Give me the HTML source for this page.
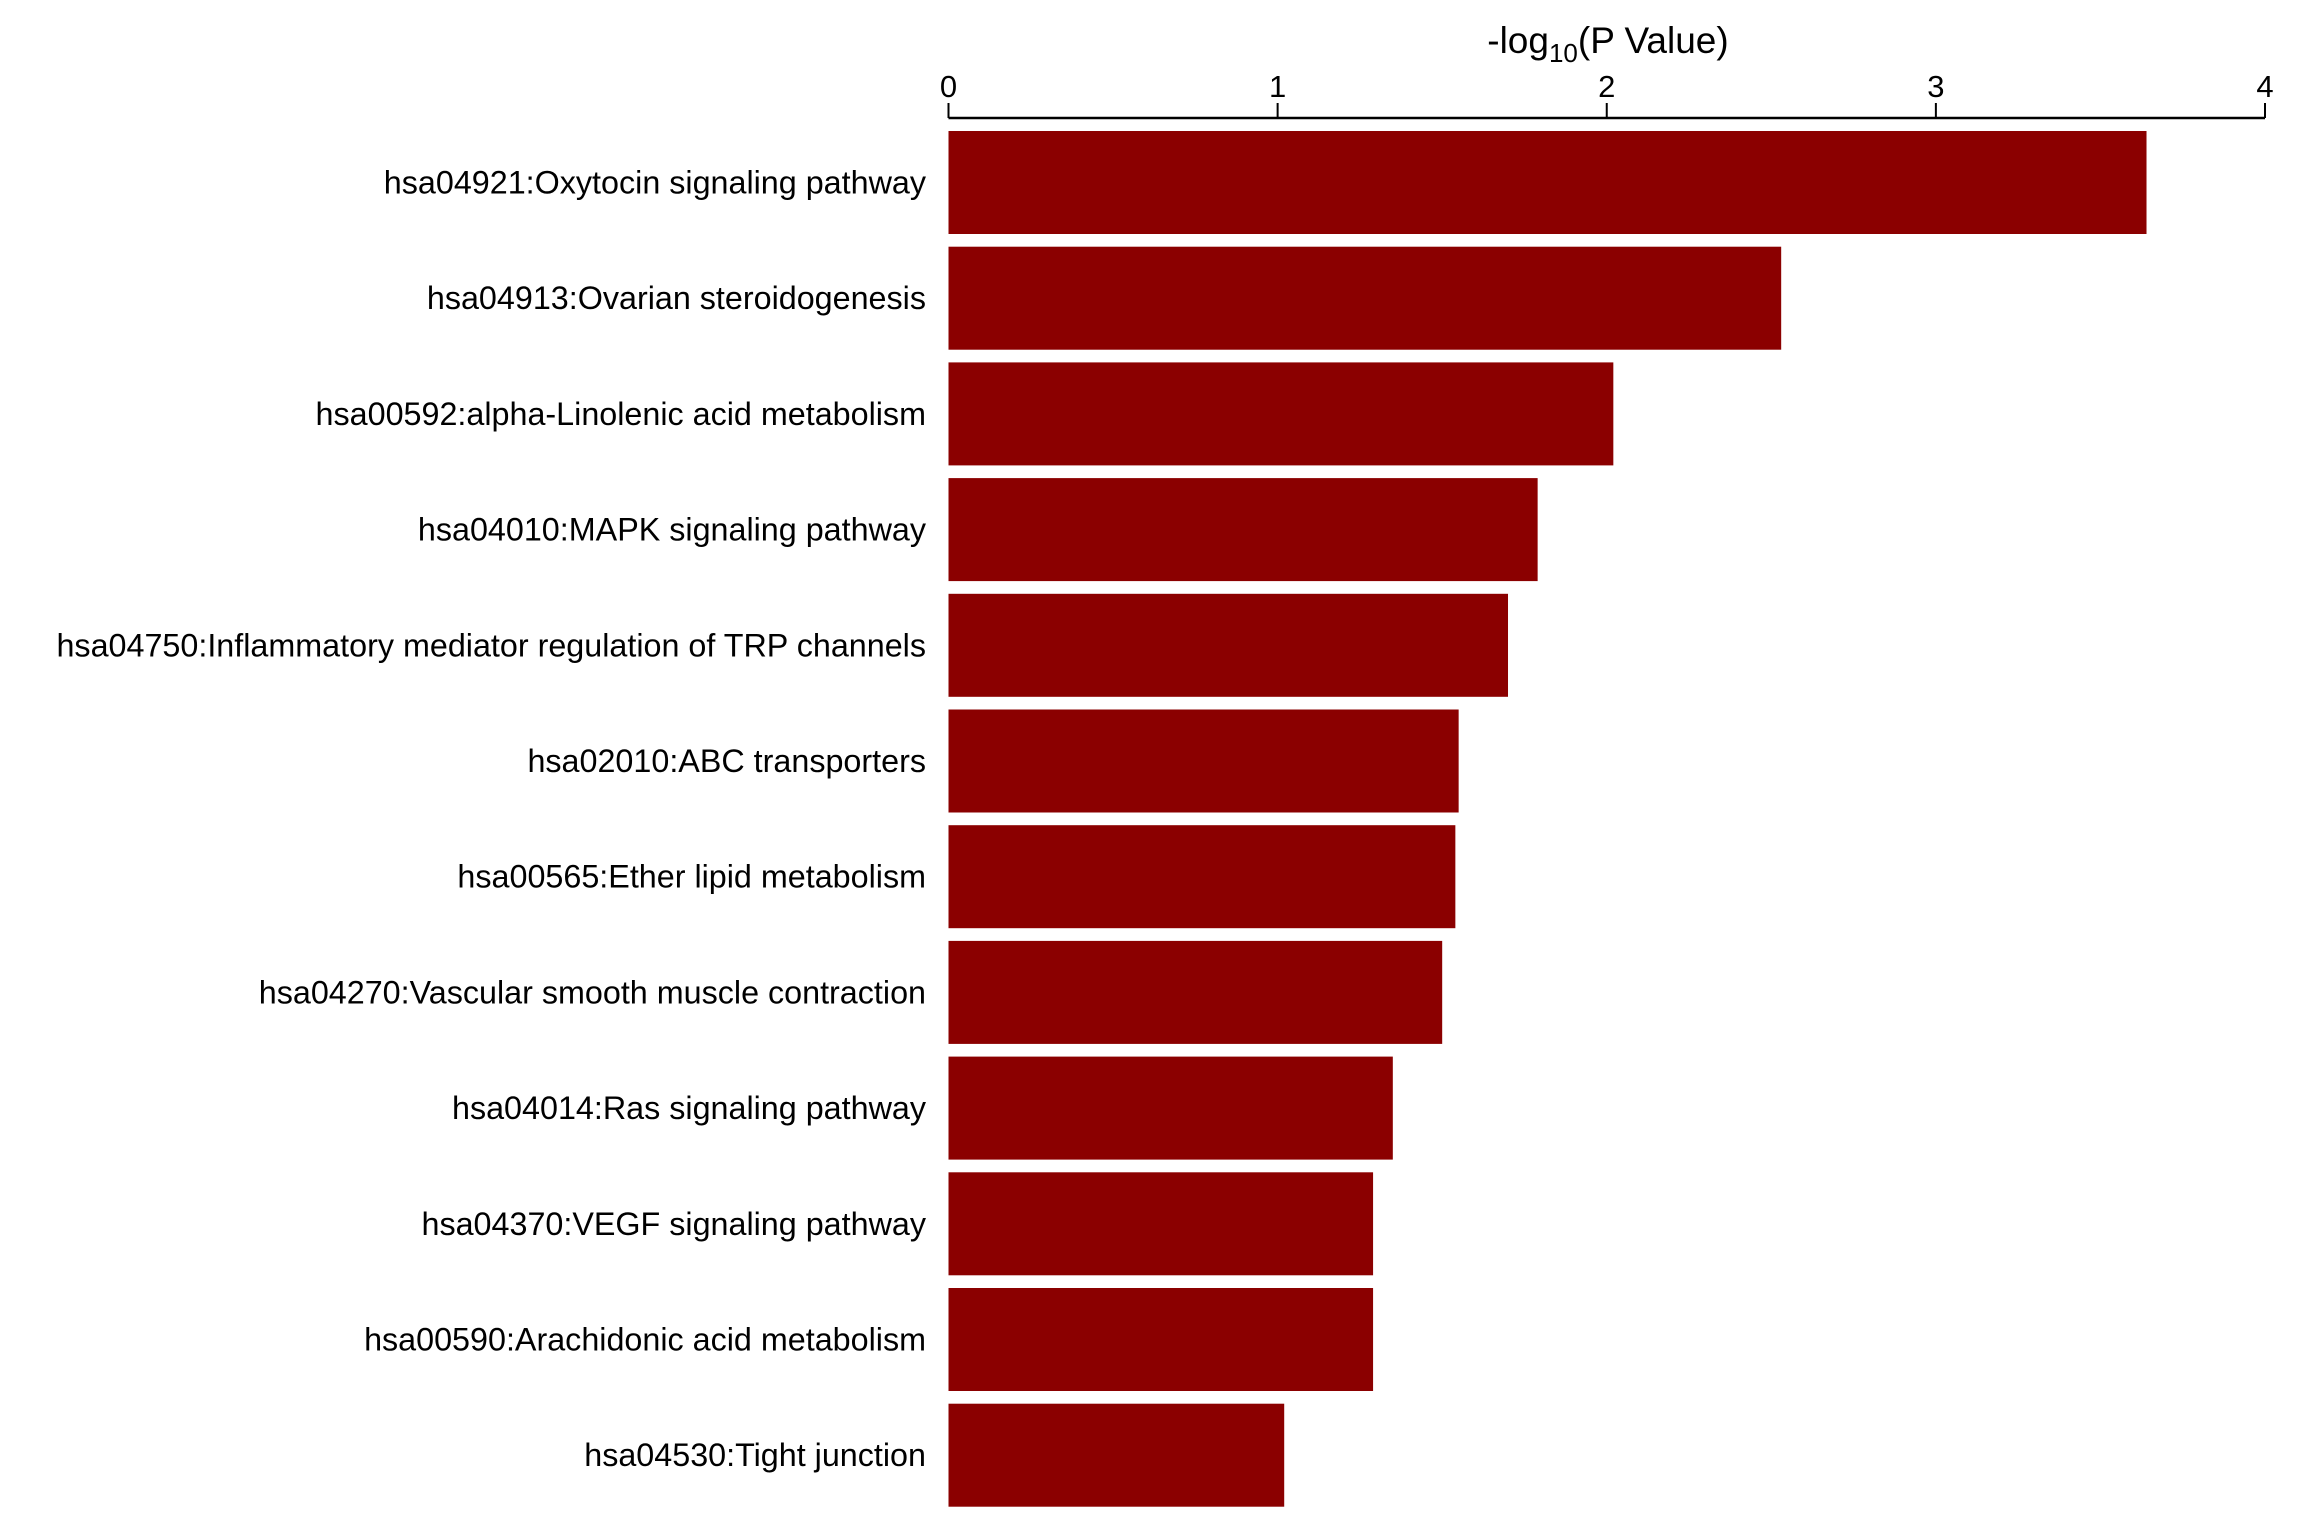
<!DOCTYPE html>
<html><head><meta charset="utf-8"><style>
html,body{margin:0;padding:0;background:#fff;}
svg{display:block;font-family:"Liberation Sans",Arial,sans-serif;}
</style></head><body>
<svg id="chart" width="2304" height="1536" viewBox="0 0 2304 1536" xmlns="http://www.w3.org/2000/svg"></svg>
<script>
const categories = ["hsa04921:Oxytocin signaling pathway","hsa04913:Ovarian steroidogenesis","hsa00592:alpha-Linolenic acid metabolism","hsa04010:MAPK signaling pathway","hsa04750:Inflammatory mediator regulation of TRP channels","hsa02010:ABC transporters","hsa00565:Ether lipid metabolism","hsa04270:Vascular smooth muscle contraction","hsa04014:Ras signaling pathway","hsa04370:VEGF signaling pathway","hsa00590:Arachidonic acid metabolism","hsa04530:Tight junction"];
const values = [3.64,2.53,2.02,1.79,1.70,1.55,1.54,1.50,1.35,1.29,1.29,1.02];
const tickValues = [0,1,2,3,4];
const tickLabels = ["0","1","2","3","4"];

const NS="http://www.w3.org/2000/svg";
const svg=document.getElementById('chart');
const x0=948.5, x1=2265, xMax=4;
const xScale=v=>x0+(x1-x0)*v/xMax;
const top0=131, pitch=115.7, barH=103;
const yBand=i=>top0+i*pitch;
function mk(tag,attrs){const e=document.createElementNS(NS,tag);for(const k in attrs)e.setAttribute(k,attrs[k]);svg.appendChild(e);return e;}

const title=mk('text',{x:1608,y:53,'text-anchor':'middle','font-size':37,fill:'#000'});


title.innerHTML='-log<tspan font-size="26" dy="9">10</tspan><tspan dy="-9">(P Value)</tspan>';

const axis=mk('line',{x1:x0,x2:x1,y1:118,y2:118,stroke:'#000','stroke-width':2.5});



tickValues.forEach((v,i)=>{
  const t=mk('line',{x1:xScale(v),x2:xScale(v),y1:103,y2:118,stroke:'#000','stroke-width':2});
  
  
  const l=mk('text',{x:xScale(v),y:97,'text-anchor':'middle','font-size':31,fill:'#000'});
  
  
  l.textContent=tickLabels[i];
});

categories.forEach((c,i)=>{
  const y=yBand(i);
  const r=mk('rect',{x:x0,y:y,width:xScale(values[i])-x0,height:barH,fill:'#8b0000'});
  
  
  const t=mk('text',{x:926,y:y+barH/2+11,'text-anchor':'end','font-size':32.3,fill:'#000'});
  
  
  t.textContent=c;
});
</script>
</body></html>
